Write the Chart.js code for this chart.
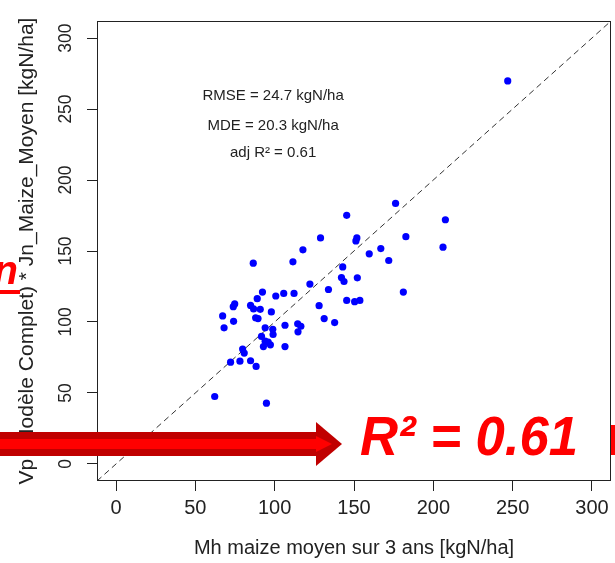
<!DOCTYPE html>
<html>
<head>
<meta charset="utf-8">
<script src="https://cdn.jsdelivr.net/npm/chart.js@4.4.1/dist/chart.umd.min.js"></script>
<style>
  html, body { margin: 0; padding: 0; background: #ffffff; }
  #chart { display: block; }
</style>
</head>
<body>
<canvas id="chart" width="615" height="563"></canvas>
<script>
// observed (x) vs simulated (y), kgN/ha
const mhObserved = [
  246.9, 176.2, 145.4, 207.6, 128.9, 151.8, 151.2, 182.7, 117.8, 159.6,
  166.9, 171.9, 206.1, 142.9, 142.1, 143.7, 152.1, 122.2, 133.9, 181.1,
  128.0, 145.4, 150.4, 153.7, 131.2, 137.8, 116.5, 86.5, 111.5, 92.3,
  100.7, 105.7, 112.2, 89.0, 74.8, 73.9, 84.8, 86.7, 90.9, 67.2,
  97.9, 88.0, 89.5, 74.1, 68.1, 94.0, 98.8, 106.5, 114.5, 114.7,
  99.0, 91.7, 94.0, 95.9, 92.9, 97.3, 106.5, 79.8, 80.8, 72.2,
  78.1, 84.8, 88.3, 62.2, 94.8
];
const vpSimulated = [
  269.8, 183.5, 175.1, 172.0, 159.2, 159.2, 157.1, 160.1, 150.8, 148.0,
  151.7, 143.3, 152.7, 138.8, 131.3, 128.5, 131.1, 126.7, 122.9, 121.1,
  111.5, 115.2, 114.3, 115.2, 102.4, 99.6, 97.0, 141.4, 142.4, 121.1,
  118.3, 120.1, 120.1, 116.4, 112.7, 110.8, 111.7, 109.2, 108.9, 104.3,
  107.1, 103.0, 102.4, 100.5, 95.9, 95.9, 94.9, 97.7, 98.7, 93.1,
  91.2, 89.8, 86.5, 85.8, 82.7, 83.9, 82.7, 80.9, 78.1, 71.7,
  72.4, 72.7, 68.7, 47.5, 42.8
];

const axisRange = [-12, 312];
const oneToOne = [-12, 312];
const xTicks = [0, 50, 100, 150, 200, 250, 300];
const yTicks = [0, 50, 100, 150, 200, 250, 300];

const statsLines = ["RMSE = 24.7 kgN/ha", "MDE = 20.3 kgN/ha", "adj R\u00b2 = 0.61"];
const statsX = 99;
const statsY = [259, 238, 219];

const xTitle = "Mh maize moyen sur 3 ans [kgN/ha]";
const yTitle = "Vp (Mod\u00e8le Complet) * Jn_Maize_Moyen [kgN/ha]";
const bigLabel = "R\u00b2 = 0.61";

const FONT = "'Liberation Sans', Arial, sans-serif";

const points = mhObserved.map((x, i) => ({ x: x, y: vpSimulated[i] }));
const diagonal = oneToOne.map((v) => ({ x: v, y: v }));

// R style box plus stats text
const boxPlugin = {
  id: "boxPlugin",
  afterDatasetsDraw(chart) {
    const { ctx, chartArea, scales } = chart;
    ctx.save();
    ctx.strokeStyle = "#222";
    ctx.lineWidth = 1;
    ctx.strokeRect(chartArea.left + 0.5, chartArea.top + 0.5,
      chartArea.right - chartArea.left - 1, chartArea.bottom - chartArea.top - 1);

    ctx.fillStyle = "#222";
    ctx.font = "15px " + FONT;
    ctx.textAlign = "center";
    ctx.textBaseline = "middle";
    statsLines.forEach((line, i) => {
      ctx.fillText(line, scales.x.getPixelForValue(statsX), scales.y.getPixelForValue(statsY[i]));
    });
    ctx.restore();
  },
};

// slide overlays (red arrow and label)
const overlayPlugin = {
  id: "overlayPlugin",
  afterDraw(chart) {
    const ctx = chart.ctx;
    ctx.save();

    // cut-off red word on the left
    ctx.fillStyle = "#ff0000";
    ctx.font = "bold italic 40px " + FONT;
    ctx.textAlign = "right";
    ctx.textBaseline = "alphabetic";
    ctx.fillText("n", 18, 284);
    ctx.fillRect(0, 290, 20, 4);

    // arrow shaft
    ctx.fillStyle = "#c00000";
    ctx.fillRect(0, 432, 320, 24);
    ctx.fillStyle = "#ff0000";
    ctx.fillRect(0, 439, 318, 10);

    // arrow head
    ctx.fillStyle = "#c00000";
    ctx.beginPath();
    ctx.moveTo(316, 422);
    ctx.lineTo(342, 444);
    ctx.lineTo(316, 466);
    ctx.closePath();
    ctx.fill();
    ctx.fillStyle = "#ff0000";
    ctx.beginPath();
    ctx.moveTo(316, 436);
    ctx.lineTo(332, 444);
    ctx.lineTo(316, 452);
    ctx.closePath();
    ctx.fill();

    // big R2 label, a bit condensed like the slide
    ctx.fillStyle = "#ff0000";
    ctx.font = "bold italic 56px " + FONT;
    ctx.textAlign = "left";
    ctx.translate(360, 455);
    ctx.scale(0.94, 1);
    ctx.fillText(bigLabel, 0, 0);
    ctx.setTransform(1, 0, 0, 1, 0, 0);

    // red edge on the right
    ctx.fillRect(611, 425, 4, 30);

    ctx.restore();
  },
};

new Chart(document.getElementById("chart"), {
  type: "scatter",
  data: {
    datasets: [
      {
        data: points,
        backgroundColor: "#0000ff",
        borderColor: "#0000ff",
        pointRadius: 3.6,
        pointBorderWidth: 0,
        order: 0,
      },
      {
        type: "line",
        data: diagonal,
        borderColor: "#333",
        borderWidth: 1,
        borderDash: [6, 4],
        pointRadius: 0,
        fill: false,
        order: 1,
      },
    ],
  },
  options: {
    responsive: false,
    animation: false,
    layout: {
      padding: { top: 21, right: 2, left: 0, bottom: 0 },
    },
    plugins: {
      legend: { display: false },
      tooltip: { enabled: false },
    },
    scales: {
      x: {
        type: "linear",
        min: axisRange[0],
        max: axisRange[1],
        afterBuildTicks: (scale) => {
          scale.ticks = xTicks.map((v) => ({ value: v }));
        },
        afterFit: (scale) => {
          scale.height = 82;
        },
        grid: {
          drawOnChartArea: false,
          drawTicks: true,
          tickLength: 10,
          color: "#222",
          lineWidth: 1,
        },
        border: { display: false },
        ticks: {
          color: "#222",
          padding: 5,
          font: { family: FONT, size: 20 },
          maxRotation: 0,
          minRotation: 0,
        },
        title: {
          display: true,
          text: xTitle,
          color: "#222",
          font: { family: FONT, size: 20 },
          padding: { top: 0, bottom: 3 },
        },
      },
      y: {
        type: "linear",
        min: axisRange[0],
        max: axisRange[1],
        afterBuildTicks: (scale) => {
          scale.ticks = yTicks.map((v) => ({ value: v }));
        },
        afterFit: (scale) => {
          scale.width = 97;
        },
        grid: {
          drawOnChartArea: false,
          drawTicks: true,
          tickLength: 10,
          color: "#222",
          lineWidth: 1,
        },
        border: { display: false },
        ticks: {
          color: "#222",
          padding: 6,
          crossAlign: "center",
          minRotation: 90,
          maxRotation: 90,
          font: { family: FONT, size: 17.5 },
        },
        title: {
          display: true,
          text: yTitle,
          color: "#222",
          font: { family: FONT, size: 21 },
          padding: { top: 15, bottom: 0 },
        },
      },
    },
  },
  plugins: [boxPlugin, overlayPlugin],
});
</script>
</body>
</html>
